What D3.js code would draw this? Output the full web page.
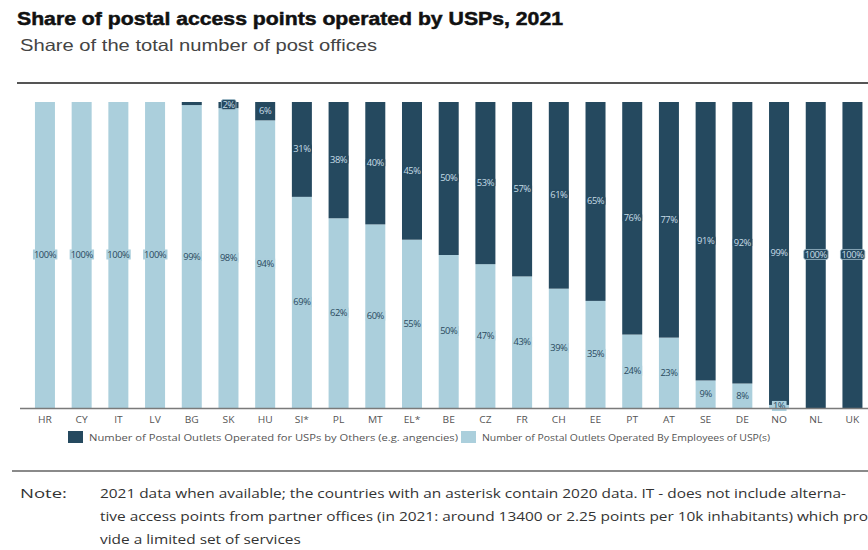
<!DOCTYPE html>
<html>
<head>
<meta charset="utf-8">
<script src="https://cdn.jsdelivr.net/npm/d3@7"></script>
<style>
  html, body { margin: 0; padding: 0; background: #fff; }
  svg { display: block; }
</style>
</head>
<body>
<div id="chart"></div>
<script>
// Countries, ordered by share of outlets run by USP employees
const countries = ["HR","CY","IT","LV","BG","SK","HU","SI*","PL","MT","EL*","BE","CZ","FR","CH","EE","PT","AT","SE","DE","NO","NL","UK"];
// Outlets operated for USPs by others (agencies), %
const byOthers = [0,0,0,0,1,2,6,31,38,40,45,50,53,57,61,65,76,77,91,92,99,100,100];
// Outlets operated by USP employees, %
const byEmployees = [100,100,100,100,99,98,94,69,62,60,55,50,47,43,39,35,24,23,9,8,1,0,0];

const seriesNames = [
  "Number of Postal Outlets Operated for USPs by Others (e.g. angencies)",
  "Number of Postal Outlets Operated By Employees of USP(s)"
];
const noteLines = [
  "2021 data when available; the countries with an asterisk contain 2020 data. IT - does not include alterna-",
  "tive access points from partner offices (in 2021: around 13400 or 2.25 points per 10k inhabitants) which pro",
  "vide a limited set of services"
];

const W = 868, H = 550;
const DARK = "#25495f", LIGHT = "#abcfdc";
const DARK_TXT = "#2a4a5e", LIGHT_TXT = "#c6dce6";
const FONT = "'Open Sans', 'DejaVu Sans', sans-serif";

const svg = d3.select("#chart").append("svg")
  .attr("width", W).attr("height", H)
  .style("font-family", FONT);

// Stretch a text element horizontally by a factor (wide geometric face look)
function widen(sel, factor) {
  sel.each(function() {
    const w = this.getComputedTextLength();
    d3.select(this).attr("textLength", w * factor).attr("lengthAdjust", "spacingAndGlyphs");
  });
}
function fitWidth(sel, width) {
  sel.attr("textLength", width).attr("lengthAdjust", "spacingAndGlyphs");
}

// Title block
svg.append("text").attr("x", 17).attr("y", 25)
  .attr("font-family", "'Liberation Sans', Arial, sans-serif")
  .attr("font-weight", "bold").attr("font-size", 18.5)
  .attr("fill", "#111").attr("stroke", "#111").attr("stroke-width", 0.5)
  .text("Share of postal access points operated by USPs, 2021")
  .call(fitWidth, 546);
svg.append("text").attr("x", 20).attr("y", 51)
  .attr("font-family", "'Liberation Sans', Arial, sans-serif")
  .attr("font-size", 16.5).attr("fill", "#444")
  .text("Share of the total number of post offices")
  .call(fitWidth, 357);

// Rules
svg.append("line").attr("x1", 17).attr("x2", W).attr("y1", 83).attr("y2", 83)
  .attr("stroke", "#555").attr("stroke-width", 2);
svg.append("line").attr("x1", 12).attr("x2", W).attr("y1", 471).attr("y2", 471)
  .attr("stroke", "#8a8a8a").attr("stroke-width", 2);

// Scales
const x = d3.scaleBand().domain(countries)
  .range([26.6, 870.8]).paddingInner(0.455).paddingOuter(0.2275);
const y = d3.scaleLinear().domain([0, 100]).range([408, 102]);

const rows = countries.map((c, i) => ({ c, others: byOthers[i], emp: byEmployees[i] }));

// Stacked segments: employees at the bottom, others on top
const stack = d3.stack().keys(["emp", "others"])(rows);
const colors = { emp: LIGHT, others: DARK };

const g = svg.append("g");
stack.forEach(layer => {
  g.selectAll(null).data(layer).enter().append("rect")
    .attr("x", d => x(d.data.c))
    .attr("width", x.bandwidth())
    .attr("y", d => y(d[1]))
    .attr("height", d => Math.max(0, y(d[0]) - y(d[1])))
    .attr("fill", colors[layer.key]);
});

// X axis
const xAxis = svg.append("g").attr("transform", "translate(0,408)")
  .call(d3.axisBottom(x).tickSize(0).tickPadding(9));
xAxis.select(".domain").remove();
svg.append("line").attr("x1", 20).attr("x2", W).attr("y1", 408.5).attr("y2", 408.5)
  .attr("stroke", "#7a7a7a").attr("stroke-width", 1.5);
xAxis.selectAll("text")
  .attr("font-family", FONT).attr("font-size", 8.5).attr("fill", "#555")
  .call(widen, 1.2);

// Value labels centred in each segment, on a small box of the segment colour
stack.forEach(layer => {
  const isDark = layer.key === "others";
  const items = layer.filter(d => (d[1] - d[0]) > (isDark ? 1 : 0));
  const lg = g.selectAll(null).data(items).enter().append("g")
    .attr("transform", d => `translate(${x(d.data.c) + x.bandwidth() / 2},${y((d[0] + d[1]) / 2)})`);
  lg.append("text")
    .attr("text-anchor", "middle").attr("dy", "0.35em")
    .attr("font-size", 8.5).attr("letter-spacing", -0.4)
    .attr("fill", isDark ? LIGHT_TXT : DARK_TXT)
    .text(d => Math.round(d[1] - d[0]) + "%")
    .call(widen, 1.1);
  lg.each(function() {
    const node = d3.select(this);
    const bb = node.select("text").node().getBBox();
    const v = node.datum()[1] - node.datum()[0];
    const boxed = v >= 100 || (isDark && v <= 2);
    node.insert("rect", "text")
      .attr("x", bb.x - 1).attr("y", bb.y + 0.5)
      .attr("width", bb.width + 2).attr("height", bb.height - 1)
      .attr("rx", isDark ? 2 : 0)
      .attr("fill", isDark ? DARK : LIGHT)
      .attr("stroke", isDark && boxed ? "#9fbccb" : "none")
      .attr("stroke-width", 0.8);
  });
});

// Legend
const legend = svg.append("g").attr("transform", "translate(68,431)");
const legendItems = [
  { name: seriesNames[0], color: DARK, x: 0, w: 369 },
  { name: seriesNames[1], color: LIGHT, x: 393, w: 288 }
];
legendItems.forEach(it => {
  legend.append("rect").attr("x", it.x).attr("y", 0)
    .attr("width", 15).attr("height", 12).attr("fill", it.color);
  legend.append("text").attr("x", it.x + 21).attr("y", 9.5)
    .attr("font-size", 9.5).attr("fill", "#555")
    .text(it.name)
    .call(fitWidth, it.w);
});

// Note
svg.append("text").attr("x", 20).attr("y", 498)
  .attr("font-size", 12.5).attr("fill", "#333").text("Note:")
  .call(fitWidth, 47);
const noteTexts = noteLines.map((line, i) =>
  svg.append("text").attr("x", 100).attr("y", 498 + i * 23)
    .attr("font-size", 12).attr("fill", "#333")
    .text(line));
// Same horizontal stretch for every note line, set by the first line's width
const noteScale = 746 / noteTexts[0].node().getComputedTextLength();
noteTexts.forEach(t => t.call(widen, noteScale));
</script>
</body>
</html>
